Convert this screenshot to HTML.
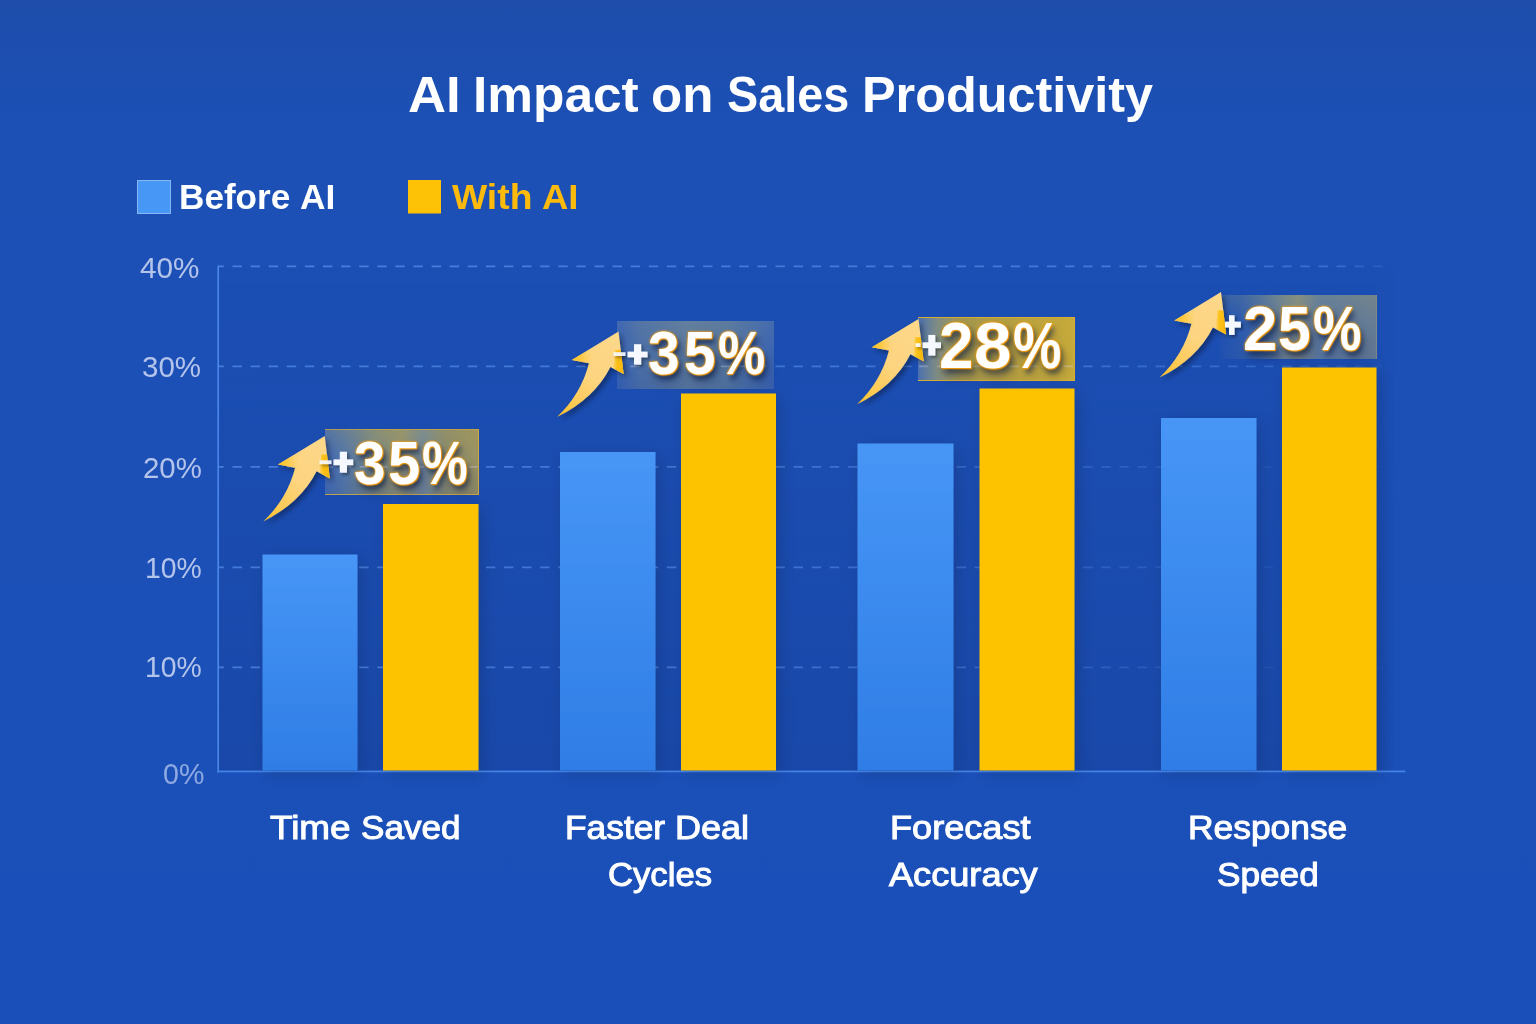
<!DOCTYPE html>
<html lang="en">
<head>
<meta charset="utf-8">
<title>AI Impact on Sales Productivity</title>
<style>
html,body{margin:0;padding:0;}
body{width:1536px;height:1024px;overflow:hidden;position:relative;background:#1c50b7;font-family:"Liberation Sans",sans-serif;}
#bg{position:absolute;left:0;top:0;width:1536px;height:1024px;
  background:linear-gradient(180deg,#1e4dab 0%,#1d4eaf 4%,#1c50b5 13%,#1c50b7 45%,#1b50b8 70%,#1a4fba 100%);}
#plot{position:absolute;left:219px;top:266px;width:1176px;height:505px;-webkit-mask-image:linear-gradient(90deg,#000 0%,#000 98.4%,transparent 100%);mask-image:linear-gradient(90deg,#000 0%,#000 98.4%,transparent 100%);background:linear-gradient(180deg,rgba(20,40,110,0.03) 0%,rgba(20,40,110,0.10) 45%,rgba(18,36,100,0.17) 100%);}
svg#g{position:absolute;left:0;top:0;}
.t{position:absolute;white-space:nowrap;line-height:1;color:#fff;transform-origin:0 0;}
.title{font-weight:bold;font-size:50.5px;}
.leg{font-weight:bold;font-size:34.5px;}
.yl{font-size:29.5px;color:#b4c4ea;}
.cat{font-size:33px;-webkit-text-stroke:1px #fff;}
.pct{font-weight:bold;font-size:60px;color:#fff;
  text-shadow:0 0 1px #f59c0a,0 0 2px #f59c0a,0 0 3px #f5a31a,1px 1px 1px #ef940a,3px 5px 6px rgba(8,22,64,0.62),5px 8px 12px rgba(8,22,64,0.25);}

.bd{position:absolute;box-sizing:border-box;}
#bd1{left:325px;top:428.500px;width:154px;height:66.500px;
  background:linear-gradient(180deg,rgba(190,170,70,0.18) 0%,rgba(120,120,110,0) 45%,rgba(40,60,120,0.12) 100%),
  linear-gradient(90deg,#3f68b6 0%,#5577a6 14%,#7d8980 34%,#8f9072 50%,#70869c 64%,#878a70 78%,#9a9262 100%);
  border-top:1px solid rgba(214,170,60,0.75);border-right:1.500px solid #d2a83c;border-bottom:1px solid rgba(214,170,60,0.8);}
#bd2{left:616.500px;top:321px;width:157.500px;height:68px;
  background:linear-gradient(180deg,rgba(150,160,150,0.12) 0%,rgba(100,120,150,0) 50%,rgba(30,60,140,0.15) 100%),
  linear-gradient(90deg,#3561b6 0%,#4a6fa8 14%,#5c7a9e 45%,#55769f 70%,#3a64b2 100%);}
#bd3{left:918px;top:316.500px;width:157px;height:64.500px;
  background:linear-gradient(90deg,#4a70b0 0%,#7f8c84 12%,#a2964e 28%,#b49e42 55%,#c6aa3a 100%);
  border-top:1px solid #d6ac34;border-right:1.500px solid #dcae2e;border-bottom:1px solid #d6ac34;}
#bd4{left:1219.500px;top:294.500px;width:157px;height:64.500px;
  background:linear-gradient(180deg,rgba(180,170,90,0.16) 0%,rgba(120,120,110,0) 45%,rgba(40,60,120,0.10) 100%),
  linear-gradient(90deg,#1f52b5 0%,#2c5bb0 14%,#4a6ea4 28%,#6c8292 41%,#7d8a86 50%,#5a79a2 64%,#667c94 100%);
  border-right:1px solid rgba(150,150,120,0.8);}
</style>
</head>
<body>
<div id="bg"></div>
<div id="plot"></div>


<svg id="g" width="1536" height="1024" viewBox="0 0 1536 1024">
  <defs>
    <linearGradient id="fade" x1="218" y1="0" x2="1392" y2="0" gradientUnits="userSpaceOnUse">
      <stop offset="0" stop-color="#5a94ee" stop-opacity="0.66"/>
      <stop offset="0.45" stop-color="#5a94ee" stop-opacity="0.56"/>
      <stop offset="0.7" stop-color="#5a94ee" stop-opacity="0.36"/>
      <stop offset="0.88" stop-color="#5a94ee" stop-opacity="0.14"/>
      <stop offset="1" stop-color="#5a94ee" stop-opacity="0.03"/>
    </linearGradient>
    <linearGradient id="fadeTop" x1="218" y1="0" x2="1392" y2="0" gradientUnits="userSpaceOnUse">
      <stop offset="0" stop-color="#5a94ee" stop-opacity="0.7"/>
      <stop offset="0.8" stop-color="#5a94ee" stop-opacity="0.6"/>
      <stop offset="0.95" stop-color="#5a94ee" stop-opacity="0.45"/>
      <stop offset="1" stop-color="#5a94ee" stop-opacity="0.15"/>
    </linearGradient>
    <linearGradient id="fadeMid" x1="218" y1="0" x2="1392" y2="0" gradientUnits="userSpaceOnUse">
      <stop offset="0" stop-color="#5a94ee" stop-opacity="0.66"/>
      <stop offset="0.7" stop-color="#5a94ee" stop-opacity="0.5"/>
      <stop offset="0.9" stop-color="#5a94ee" stop-opacity="0.36"/>
      <stop offset="1" stop-color="#5a94ee" stop-opacity="0.1"/>
    </linearGradient>
    <linearGradient id="blueBar" x1="0" y1="0" x2="0" y2="1">
      <stop offset="0" stop-color="#4796f6"/>
      <stop offset="1" stop-color="#2f7de6"/>
    </linearGradient>
    <linearGradient id="edgeG" x1="55" y1="0" x2="66" y2="0" gradientUnits="userSpaceOnUse">
      <stop offset="0" stop-color="#fcc216" stop-opacity="0"/>
      <stop offset="0.45" stop-color="#fcc010" stop-opacity="0.95"/>
      <stop offset="1" stop-color="#f9b70e" stop-opacity="1"/>
    </linearGradient>
    <radialGradient id="barbG" cx="15" cy="-58" r="21" gradientUnits="userSpaceOnUse">
      <stop offset="0" stop-color="#fcc226" stop-opacity="1"/>
      <stop offset="0.45" stop-color="#fcc630" stop-opacity="0.75"/>
      <stop offset="1" stop-color="#fdcc48" stop-opacity="0"/>
    </radialGradient>
    <linearGradient id="arrowG" x1="0" y1="0" x2="60" y2="-85" gradientUnits="userSpaceOnUse">
      <stop offset="0" stop-color="#fcc028"/>
      <stop offset="0.22" stop-color="#fdcb58"/>
      <stop offset="0.5" stop-color="#fdd480"/>
      <stop offset="1" stop-color="#fdd88a"/>
    </linearGradient>
    <filter id="ash" x="-30%" y="-30%" width="170%" height="170%">
      <feGaussianBlur in="SourceAlpha" stdDeviation="2.5"/>
      <feOffset dx="3" dy="3"/>
      <feComponentTransfer><feFuncA type="linear" slope="0.35"/></feComponentTransfer>
      <feMerge><feMergeNode/><feMergeNode in="SourceGraphic"/></feMerge>
    </filter>
    <filter id="psh" x="-30%" y="-30%" width="170%" height="170%">
      <feGaussianBlur in="SourceAlpha" stdDeviation="1.5"/>
      <feOffset dx="1.5" dy="2"/>
      <feComponentTransfer><feFuncA type="linear" slope="0.4"/></feComponentTransfer>
      <feMerge><feMergeNode/><feMergeNode in="SourceGraphic"/></feMerge>
    </filter>
    <filter id="bsh" x="-20%" y="-10%" width="150%" height="120%">
      <feGaussianBlur in="SourceAlpha" stdDeviation="9"/>
      <feOffset dx="4" dy="4"/>
      <feComponentTransfer><feFuncA type="linear" slope="0.15"/></feComponentTransfer>
      <feMerge><feMergeNode/><feMergeNode in="SourceGraphic"/></feMerge>
    </filter>
    <path id="arrowEdge" d="M58,-67 L63.8,-67 L66.6,-43 L56.5,-48.4 Z"/>
    <path id="arrow" d="M0,0 Q23.7,-22.2 32,-53.7 L14.8,-57 L61.5,-85.4 L66.6,-43 L53.4,-50.1 Q37.3,-18.3 0,0 Z"/>
  </defs>

  <!-- gridlines -->
  <g stroke="url(#fade)" stroke-width="1.800" stroke-dasharray="9.4 8.7" stroke-dashoffset="4.4" fill="none">
    <path d="M218.800,266.400 H1389" stroke="url(#fadeTop)"/>
    <path d="M218.800,366.400 H1392" stroke="url(#fadeMid)"/>
    <path d="M218.800,466.900 H1392"/>
    <path d="M218.800,567.400 H1392"/>
    <path d="M218.800,667.300 H1392"/>
  </g>
  <!-- axes -->
  <rect x="217.400" y="265.500" width="1.600" height="507" fill="#4a88ea"/>
  <rect x="217.400" y="770.600" width="1188" height="1.700" fill="#4484e6"/>

  <!-- bars -->
  <g filter="url(#bsh)">
  <rect x="262.500" y="554.500" width="95" height="216" fill="url(#blueBar)"/>
  <rect x="383" y="504" width="95.500" height="266.500" fill="#fdc206"/>
  <rect x="560" y="452" width="95.500" height="318.500" fill="url(#blueBar)"/>
  <rect x="681" y="393.500" width="95" height="377" fill="#fdc206"/>
  <rect x="857.500" y="443.500" width="96" height="327" fill="url(#blueBar)"/>
  <rect x="979.500" y="388.500" width="95" height="382" fill="#fdc206"/>
  <rect x="1161" y="418" width="95.500" height="352.500" fill="url(#blueBar)"/>
  <rect x="1282" y="367.500" width="94.500" height="403" fill="#fdc206"/>
  </g>

  <!-- legend swatches -->
  <rect x="137.500" y="180.500" width="33" height="33" fill="#4797f7" stroke="#86b8f6" stroke-width="1"/>
  <rect x="408" y="180" width="33" height="33.500" fill="#fdc206"/>

</svg>

<div class="bd" id="bd1"></div>
<div class="bd" id="bd2"></div>
<div class="bd" id="bd3"></div>
<div class="bd" id="bd4"></div>

<svg id="g2" width="1536" height="1024" viewBox="0 0 1536 1024" style="position:absolute;left:0;top:0;">
  <!-- faint gridline traces over backdrops -->
  <g stroke="#dfe8f4" stroke-opacity="0.30" stroke-width="1.600" stroke-dasharray="9.4 8.7" fill="none">
    <path d="M326,466.900 H478" stroke-dashoffset="2.200"/>
    <path d="M617,366.400 H773" stroke-dashoffset="4.700"/>
    <path d="M919,366.400 H1074" stroke-dashoffset="0.100"/>
  </g>
  <!-- arrows -->
  <g filter="url(#ash)">
    <use href="#arrow" transform="translate(263.2,521.4)" fill="url(#arrowG)"/><use href="#arrow" transform="translate(263.2,521.4)" fill="url(#barbG)"/><use href="#arrowEdge" transform="translate(263.2,521.4)" fill="url(#edgeG)"/>
    <use href="#arrow" transform="translate(557,417)" fill="url(#arrowG)"/><use href="#arrow" transform="translate(557,417)" fill="url(#barbG)"/><use href="#arrowEdge" transform="translate(557,417)" fill="url(#edgeG)"/>
    <use href="#arrow" transform="translate(857,404.3)" fill="url(#arrowG)"/><use href="#arrow" transform="translate(857,404.3)" fill="url(#barbG)"/><use href="#arrowEdge" transform="translate(857,404.3)" fill="url(#edgeG)"/>
    <use href="#arrow" transform="translate(1159.5,377.5)" fill="url(#arrowG)"/><use href="#arrow" transform="translate(1159.5,377.5)" fill="url(#barbG)"/><use href="#arrowEdge" transform="translate(1159.5,377.5)" fill="url(#edgeG)"/>
  </g>
  <!-- dash + plus signs -->
  <g filter="url(#psh)" fill="#f6f8ff">
    <rect x="319.500" y="460.300" width="12" height="3.800" opacity="0.92"/>
    <rect x="333.500" y="459.400" width="19.700" height="5.800"/><rect x="339.800" y="451.700" width="7.200" height="21"/>
    <rect x="613.500" y="352.200" width="12" height="3.800" opacity="0.92"/>
    <rect x="627.500" y="351.600" width="20.100" height="5.800"/><rect x="634" y="344.200" width="7.200" height="20.500"/>
    <rect x="915.500" y="343.200" width="5" height="3.800" opacity="0.92"/>
    <rect x="922.500" y="342.300" width="18.500" height="5.800"/><rect x="928.300" y="334.900" width="7" height="20.700"/>
    <rect x="1225" y="321.600" width="15.900" height="6"/><rect x="1229" y="315.200" width="5.600" height="19.700"/>
  </g>
</svg>

<!-- title -->
<div class="t title" id="t1" style="left:408.00px;top:70.00px;transform:scaleX(1.0427);">AI</div>
<div class="t title" id="t2" style="left:472.97px;top:70.00px;transform:scaleX(1.0181);">Impact</div>
<div class="t title" id="t3" style="left:651.47px;top:70.00px;transform:scaleX(1.0104);">on</div>
<div class="t title" id="t4" style="left:726.95px;top:70.00px;transform:scaleX(0.9254);">Sales</div>
<div class="t title" id="t5" style="left:861.66px;top:70.00px;transform:scaleX(0.9976);">Productivity</div>

<!-- legend -->
<div class="t leg" id="l1" style="left:178.71px;top:179.80px;transform:scaleX(1.0186);">Before</div>
<div class="t leg" id="l2" style="left:299.79px;top:179.80px;transform:scaleX(1.0238);">AI</div>
<div class="t leg" id="l3" style="left:452.48px;top:179.80px;color:#fcba0c;transform:scaleX(1.0810);">With</div>
<div class="t leg" id="l4" style="left:542.19px;top:179.80px;color:#fcba0c;transform:scaleX(1.0571);">AI</div>

<!-- y axis labels -->
<div class="t yl" id="y1" style="left:139.91px;top:252.75px;transform:scaleX(1.0064);">40%</div>
<div class="t yl" id="y2" style="left:141.98px;top:352.00px;transform:scaleX(1.0005);">30%</div>
<div class="t yl" id="y3" style="left:142.74px;top:452.50px;transform:scaleX(0.9973);">20%</div>
<div class="t yl" id="y4" style="left:144.52px;top:552.75px;transform:scaleX(0.9622);">10%</div>
<div class="t yl" id="y5" style="left:144.52px;top:652.00px;transform:scaleX(0.9622);">10%</div>
<div class="t yl" id="y6" style="left:162.55px;top:759.00px;color:#8ea9e2;transform:scaleX(0.9695);">0%</div>

<!-- category labels -->
<div class="t cat" id="c1" style="left:269.81px;top:811.00px;transform:scaleX(1.1177);">Time</div>
<div class="t cat" id="c2" style="left:361.30px;top:811.00px;transform:scaleX(1.0627);">Saved</div>
<div class="t cat" id="c3" style="left:564.83px;top:811.00px;transform:scaleX(1.0703);">Faster</div>
<div class="t cat" id="c4" style="left:674.70px;top:811.00px;transform:scaleX(1.0915);">Deal</div>
<div class="t cat" id="c5" style="left:607.71px;top:858px;transform:scaleX(1.0502);">Cycles</div>
<div class="t cat" id="c6" style="left:889.66px;top:811.00px;transform:scaleX(1.0943);">Forecast</div>
<div class="t cat" id="c7" style="left:888.65px;top:858px;transform:scaleX(1.0955);">Accuracy</div>
<div class="t cat" id="c8" style="left:1187.90px;top:811.00px;transform:scaleX(1.0719);">Response</div>
<div class="t cat" id="c9" style="left:1216.65px;top:858px;transform:scaleX(1.0662);">Speed</div>

<!-- percentage labels -->
<div class="t pct" id="p1a" style="font-size:61.5px;left:353.91px;top:431.64px;transform:scaleX(0.9217);">3</div>
<div class="t pct" id="p1b" style="font-size:61.5px;left:388.23px;top:431.64px;transform:scaleX(0.9424);">5</div>
<div class="t pct" id="p1c" style="font-size:61.5px;left:421.99px;top:431.64px;transform:scaleX(0.8353);">%</div>
<div class="t pct" id="p2a" style="font-size:61.5px;left:648.47px;top:321.89px;transform:scaleX(0.9249);">3</div>
<div class="t pct" id="p2b" style="font-size:61.5px;left:683.53px;top:321.89px;transform:scaleX(0.9220);">5</div>
<div class="t pct" id="p2c" style="font-size:61.5px;left:717.73px;top:321.89px;transform:scaleX(0.8632);">%</div>
<div class="t pct" id="p3a" style="font-size:64px;left:939.43px;top:313.93px;transform:scaleX(0.9650);">2</div>
<div class="t pct" id="p3b" style="font-size:64px;left:974.37px;top:313.93px;transform:scaleX(1.0520);">8</div>
<div class="t pct" id="p3c" style="font-size:64px;left:1013.29px;top:313.93px;transform:scaleX(0.8510);">%</div>
<div class="t pct" id="p4a" style="font-size:63.5px;left:1242.50px;top:297.09px;transform:scaleX(0.9693);">2</div>
<div class="t pct" id="p4b" style="font-size:63.5px;left:1278.01px;top:297.09px;transform:scaleX(0.9250);">5</div>
<div class="t pct" id="p4c" style="font-size:63.5px;left:1312.74px;top:297.09px;transform:scaleX(0.8585);">%</div>

</body>
</html>
